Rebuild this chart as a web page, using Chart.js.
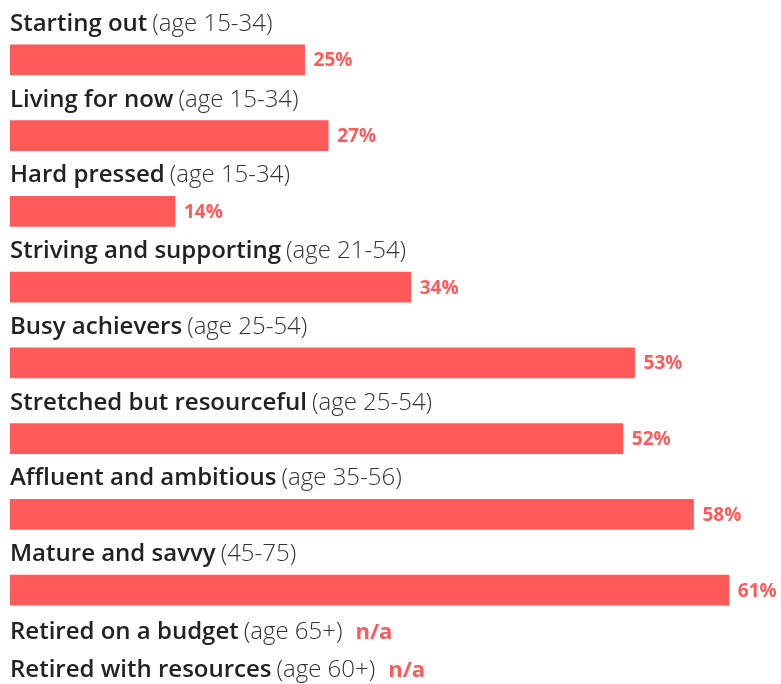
<!DOCTYPE html>
<html>
<head>
<meta charset="utf-8">
<script src="https://cdn.jsdelivr.net/npm/chart.js@4"></script>
<style>
  html, body { margin: 0; padding: 0; background: #fff; }
  #wrap { width: 781px; height: 684px; position: relative; }
</style>
</head>
<body>
<div id="wrap"><canvas id="chart"></canvas></div>
<script>
// Data
const segments = ['Starting out', 'Living for now', 'Hard pressed', 'Striving and supporting',
  'Busy achievers', 'Stretched but resourceful', 'Affluent and ambitious', 'Mature and savvy',
  'Retired on a budget', 'Retired with resources'];
const ages = ['(age 15-34)', '(age 15-34)', '(age 15-34)', '(age 21-54)', '(age 25-54)',
  '(age 25-54)', '(age 35-56)', '(45-75)', '(age 65+)', '(age 60+)'];
const values = [25, 27, 14, 34, 53, 52, 58, 61, null, null];

const RED = '#ff5a5a';
const FONT = '"Open Sans", Lato, sans-serif';

// only segments with a value get a bar, the rest are listed as n/a below
const shown = segments.map((s, i) => i).filter(i => values[i] !== null);
const missing = segments.map((s, i) => i).filter(i => values[i] === null);

function drawLabel(ctx, x, y, i) {
  ctx.textBaseline = 'alphabetic';
  ctx.textAlign = 'left';
  ctx.font = '600 24px ' + FONT;
  ctx.fillStyle = '#222';
  ctx.fillText(segments[i], x, y);
  let w = ctx.measureText(segments[i]).width + 5;
  ctx.font = '300 24px ' + FONT;
  ctx.fillStyle = '#333';
  ctx.fillText(ages[i], x + w, y);
  return x + w + ctx.measureText(ages[i]).width;
}

const labelsPlugin = {
  id: 'labels',
  afterDatasetsDraw(chart) {
    const ctx = chart.ctx;
    const meta = chart.getDatasetMeta(0);
    const left = chart.chartArea.left;
    ctx.save();
    meta.data.forEach((bar, k) => {
      const i = shown[k];
      drawLabel(ctx, left, bar.y - 29, i);
      ctx.font = 'bold 19px ' + FONT;
      ctx.fillStyle = RED;
      ctx.textBaseline = 'middle';
      ctx.fillText(values[i] + '%', bar.x + 9, bar.y + 1);
    });
    const last = meta.data[meta.data.length - 1];
    missing.forEach((i, k) => {
      const y = last.y + 49 + k * 38;
      const end = drawLabel(ctx, left, y, i);
      ctx.font = 'bold 22px ' + FONT;
      ctx.fillStyle = RED;
      ctx.textBaseline = 'alphabetic';
      ctx.fillText('n/a', end + 13, y);
    });
    ctx.restore();
  }
};

new Chart(document.getElementById('chart'), {
  type: 'bar',
  data: {
    labels: shown.map(i => segments[i]),
    datasets: [{
      data: shown.map(i => values[i]),
      backgroundColor: RED,
      barThickness: 30
    }]
  },
  options: {
    indexAxis: 'y',
    responsive: true,
    maintainAspectRatio: false,
    animation: false,
    layout: { padding: { left: 10, right: 5, top: 22, bottom: 56 } },
    plugins: { legend: { display: false }, tooltip: { enabled: false } },
    scales: {
      x: { min: 0, max: 65, display: false },
      y: { display: false }
    }
  },
  plugins: [labelsPlugin]
});
</script>
</body>
</html>
